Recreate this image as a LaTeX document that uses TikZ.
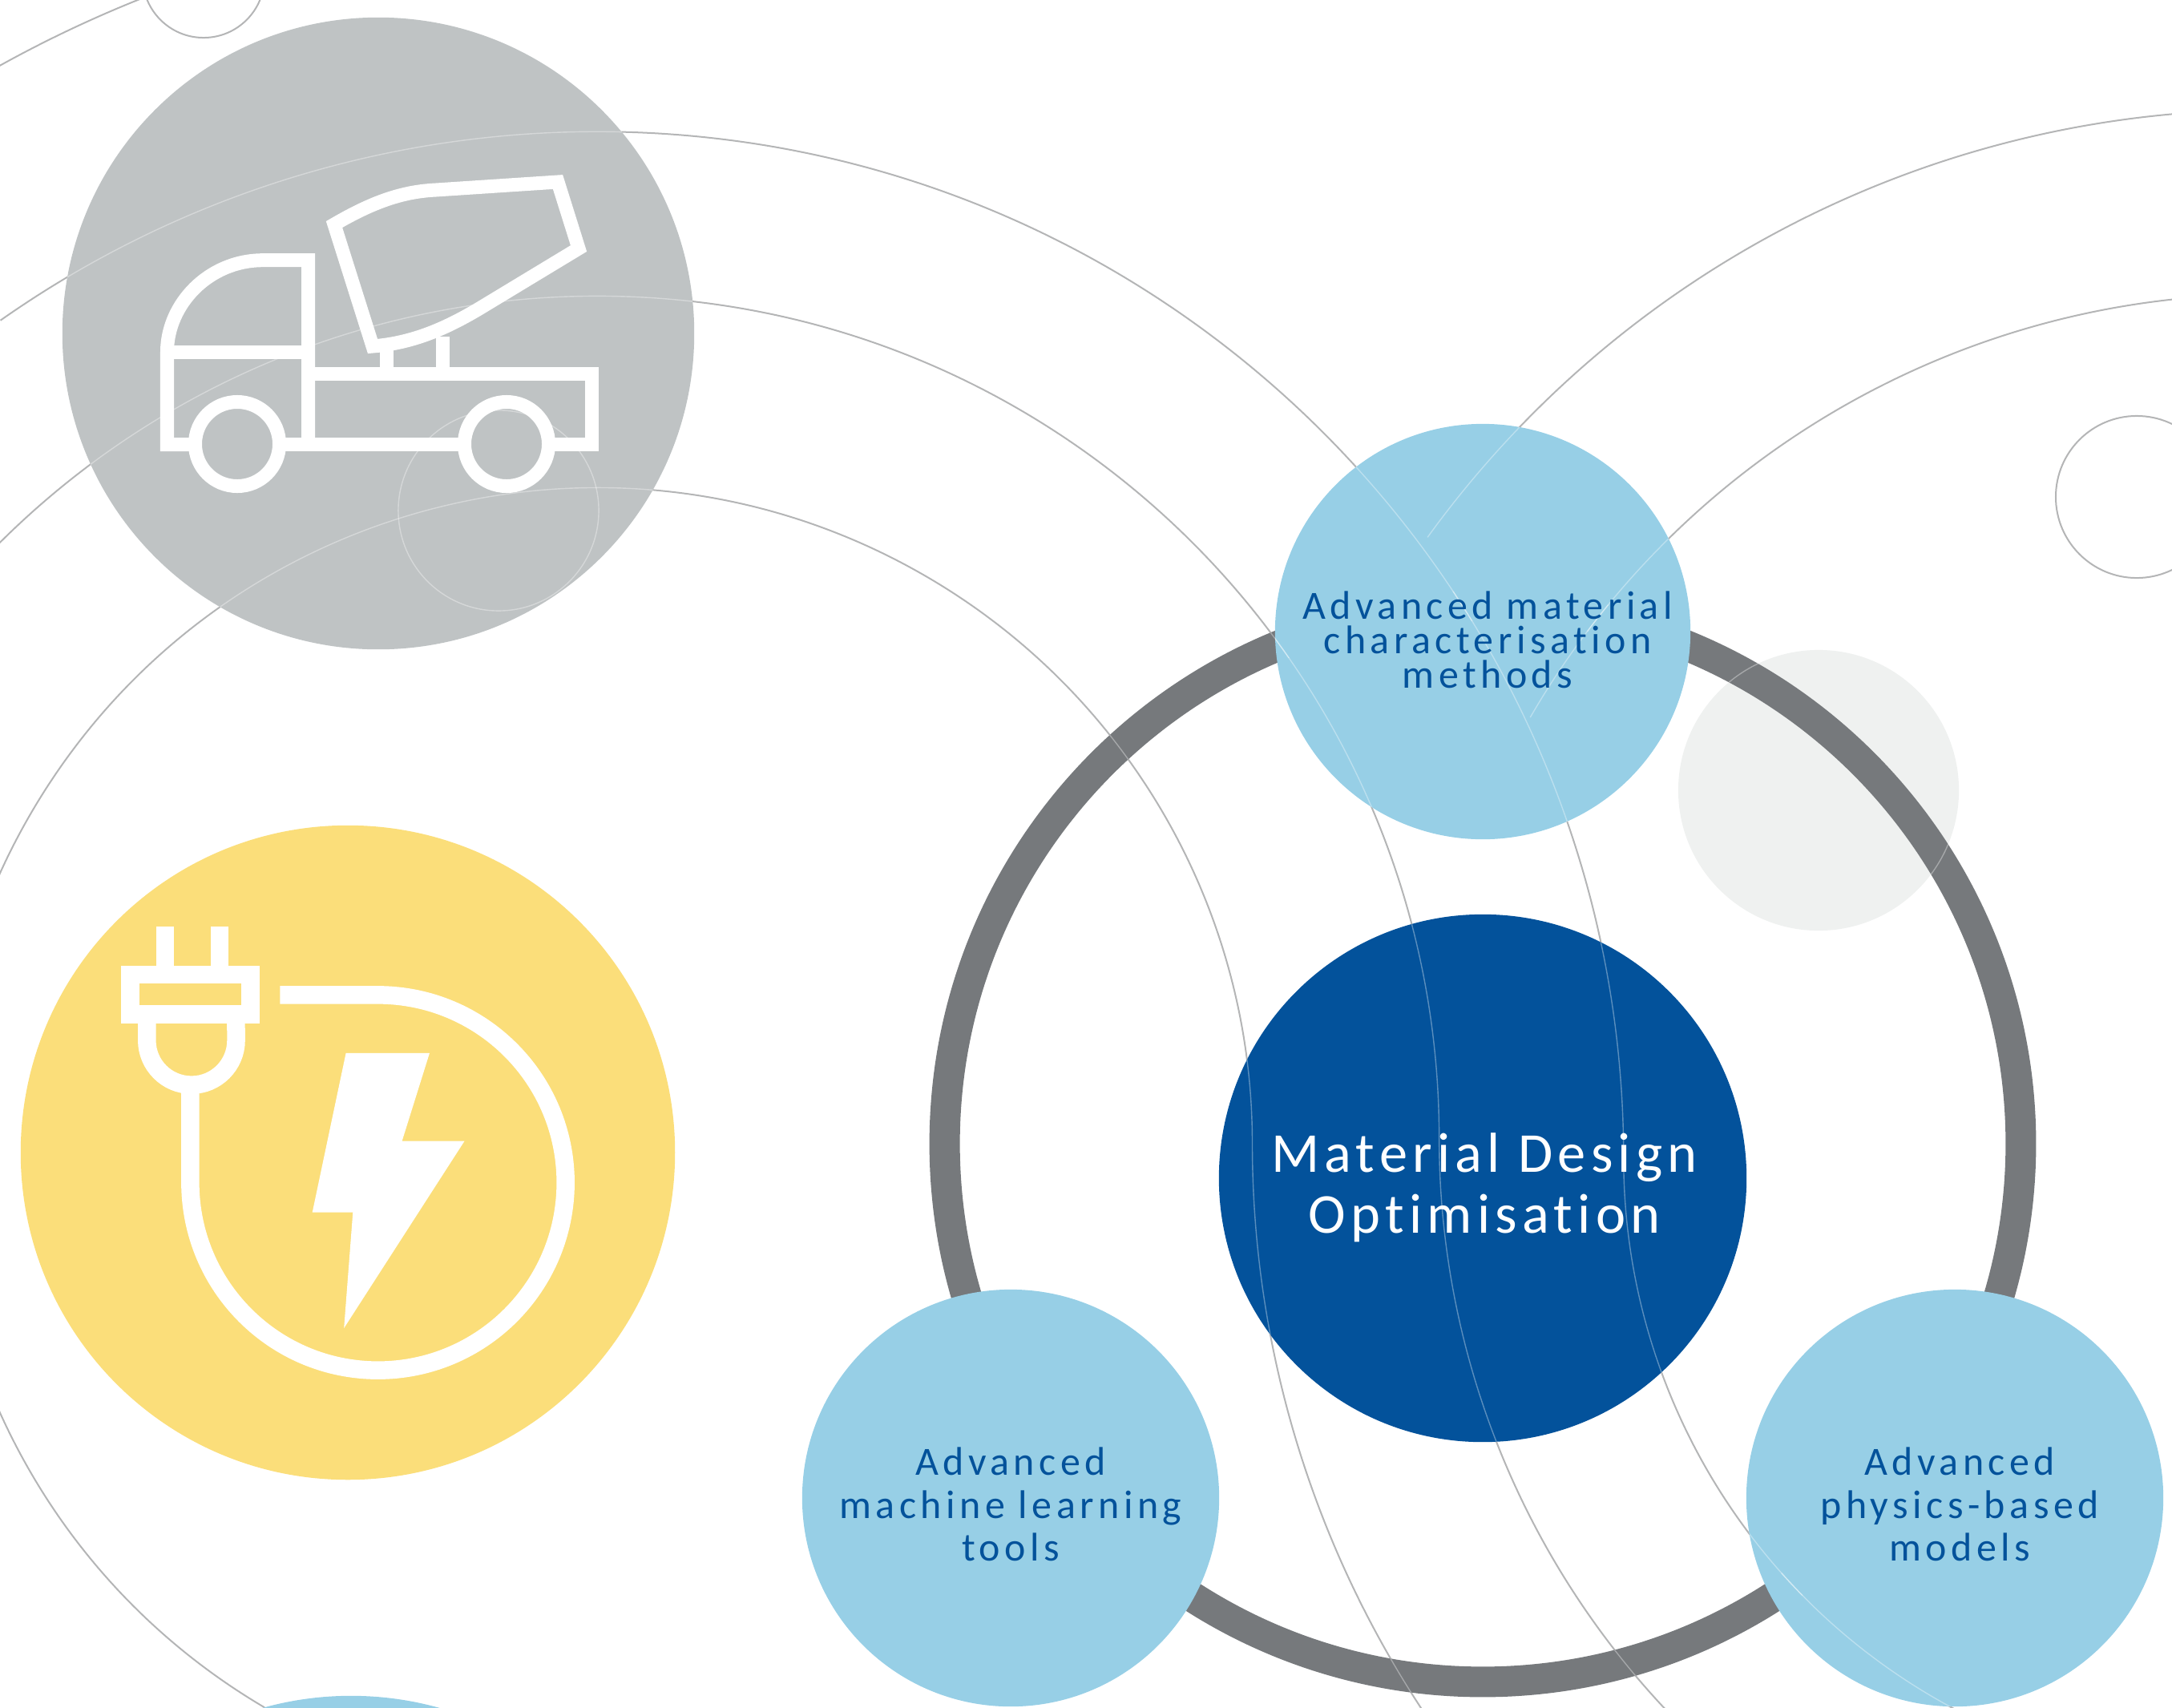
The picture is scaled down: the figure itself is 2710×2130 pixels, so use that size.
\documentclass[tikz,border=0pt]{standalone}
\usepackage{fontspec}
\setmainfont{Carlito}[LetterSpace=9, Ligatures=NoCommon]
\newfontfamily\labelfont{Carlito}[LetterSpace=11, Ligatures=NoCommon]
\usepackage{tikz}

\definecolor{truckgrey}{HTML}{BFC3C4}
\definecolor{plugyellow}{HTML}{FBDE7A}
\definecolor{toolblue}{HTML}{97CFE6}
\definecolor{coreblue}{HTML}{03529B}
\definecolor{ringgrey}{HTML}{76797C}
\definecolor{palegrey}{HTML}{EFF1F0}
\definecolor{arcgrey}{HTML}{B4B5B6}

\tikzset{
	bubble/.style={circle, draw=none, inner sep=0pt},
	arcline/.style={draw=arcgrey, line width=0.02cm},
	paleline/.style={draw=white, opacity=0.35, line width=0.014cm},
	iconline/.style={draw=white, line width=0.17cm, line join=miter},
	plugline/.style={draw=white, line width=0.225cm, line join=miter},
	tooltext/.style={text=coreblue, align=center, font=\labelfont\fontsize{14.2}{15.3}\selectfont},
}

% all the long thin arcs, drawn twice
\newcommand{\wavearcs}[1]{
	\draw[#1] (745,1459) ++(125.1:12.94cm) arc[start angle=125.1, end angle=90, radius=12.94cm]
		arc[start angle=90, end angle=0, radius=12.8cm]
		arc[start angle=180, end angle=243, radius=7.78cm];
	\draw[#1] (745,1426) ++(134.9:10.56cm) arc[start angle=134.9, end angle=90, radius=10.56cm]
		arc[start angle=90, end angle=0, radius=10.5cm]
		arc[start angle=180, end angle=224, radius=10.4cm];
	\draw[#1] (745,1426) ++(239.5:8.17cm) arc[start angle=239.5, end angle=0, radius=8.17cm]
		arc[start angle=180, end angle=214, radius=12.85cm];
	\draw[#1] (745,1426) ++(125:15.36cm) arc[start angle=125, end angle=105, radius=15.36cm];
	\draw[#1] (2825,1426) ++(144.1:12.88cm) arc[start angle=144.1, end angle=90, radius=12.88cm];
	\draw[#1] (2825,1426) ++(149.9:10.58cm) arc[start angle=149.9, end angle=90, radius=10.58cm];
	\draw[#1] (622,637) circle[radius=1.25cm];
}

\begin{document}
\begin{tikzpicture}[x=0.01cm, y=-0.01cm]
		\useasboundingbox (0,0) rectangle (2710,2130);
		\clip (0,0) rectangle (2710,2130);

		\wavearcs{arcline}
		\draw[arcline] (254,-29) circle[radius=0.76cm];
		\draw[arcline] (2666,620) circle[radius=1.01cm];

		\node[bubble, fill=palegrey, minimum size=3.5cm] (paledisc) at (2269,986) {};
		\draw[ringgrey, line width=0.38cm] (1850,1427) circle[radius=6.71cm];

		\node[bubble, fill=truckgrey, minimum size=7.88cm] (truckdisc) at (472,416) {};
		\node[bubble, fill=plugyellow, minimum size=8.16cm] (plugdisc) at (434,1438) {};
		\node[bubble, fill=toolblue, minimum size=8.16cm] (lowdisc) at (438,2524) {};
		\node[bubble, fill=toolblue, minimum size=5.18cm] (chardisc) at (1850,788) {};
		\node[bubble, fill=toolblue, minimum size=5.2cm] (mldisc) at (1261,1869) {};
		\node[bubble, fill=toolblue, minimum size=5.2cm] (physdisc) at (2439,1869) {};
		\node[bubble, fill=coreblue, minimum size=6.58cm] (coredisc) at (1850,1470) {};

		% arcs show through the discs
		\foreach \cx/\cy/\rr in {472/416/3.94, 1850/788/2.59, 1261/1869/2.6, 2439/1869/2.6, 1850/1470/3.29}
		{
			\begin{scope}
				\clip (\cx,\cy) circle[radius=\rr cm];
				\wavearcs{paleline}
			\end{scope}
		}
		% and through the ring
		\begin{scope}[even odd rule]
			\clip (1850,1427) circle[radius=6.9cm] (1850,1427) circle[radius=6.52cm];
			\wavearcs{paleline}
			\draw[paleline] (2269,986) circle[radius=1.75cm];
		\end{scope}

		% truck
		\draw[iconline] (384.7,466) -- (738.3,466) -- (738.3,554.7) -- (684.5,554.7);
		\draw[iconline] (243.5,554.7) -- (208.5,554.7) -- (208.5,439) .. controls (208.5,380) and (260,324.7) .. (328,324.7) -- (384.7,324.7) -- (384.7,554.7);
		\draw[iconline] (208.5,439.3) -- (384.7,439.3);
		\draw[iconline] (348.5,554.7) -- (579.5,554.7);
		\draw[iconline] (296,554) circle[radius=0.525cm];
		\draw[iconline] (632,554) circle[radius=0.525cm];
		\draw[iconline] (417,280) .. controls (465,252) and (502,239) .. (544,237) -- (696,227) -- (722,310) -- (598,385) .. controls (556,410) and (515,428) .. (465,432) -- cycle;
		\draw[iconline] (482,437) -- (482,466);
		\draw[iconline] (552,420) -- (552,466);

		% plug
		\draw[plugline] (162.7,1216) rectangle (312.6,1265.5);
		\foreach \x in {206,273.8}
		\draw[plugline] (\x,1156.4) -- (\x,1216);
		\draw[plugline] (183.3,1265.5) -- (183.3,1298) arc[start angle=180, end angle=360, radius=0.556cm] -- (294.4,1265.5);
		\draw[plugline] (237.4,1354) -- (237.4,1475.5) arc[start angle=180, end angle=450, radius=2.34cm] -- (349.3,1241.4);
		\fill[white] (431.6,1313.8) -- (536,1313.8) -- (501.6,1423.7) -- (579.5,1423.7) -- (429.2,1657) -- (440.3,1512.6) -- (389.7,1512.6) -- cycle;

		% labels
		\node[text=white, align=center, font=\fontsize{20}{21.6}\selectfont] (coretext) at ([xshift=0.02cm, yshift=-0.12cm]coredisc.center) {Material Design\\Optimisation};
		\node[tooltext, font=\labelfont\fontsize{14.2}{12.2}\selectfont] (chartext) at ([xshift=0.06cm, yshift=-0.1cm]chardisc.center) {Advanced material\\characterisation\\methods};
		\node[tooltext] (mltext) at ([yshift=-0.08cm]mldisc.center) {Advanced\\machine learning\\tools};
		\node[tooltext] (phystext) at ([xshift=0.06cm, yshift=-0.08cm]physdisc.center) {Advanced\\physics-based\\models};
		\end{tikzpicture}
\end{document}
